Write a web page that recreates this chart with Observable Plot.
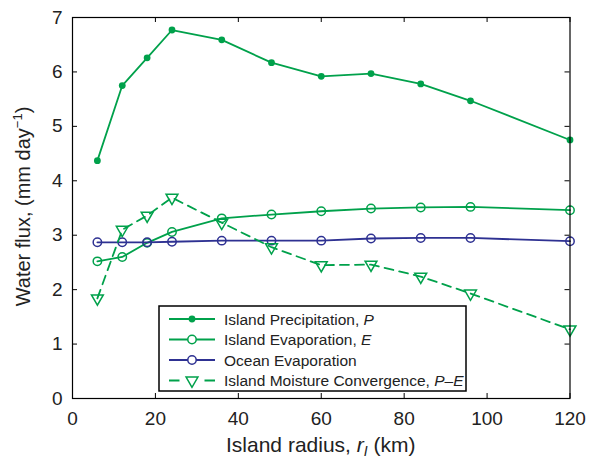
<!DOCTYPE html>
<html><head><meta charset="utf-8">
<script src="https://cdn.jsdelivr.net/npm/d3@7"></script>
<script src="https://cdn.jsdelivr.net/npm/@observablehq/plot@0.6"></script>
<style>
body{margin:0;background:#fff}
#chart{position:relative;width:589px;height:461px}
</style>
</head><body><div id="chart"></div>
<script>
// Data
const radius = [6, 12, 18, 24, 36, 48, 60, 72, 84, 96, 120];
const islandPrecip = [4.37, 5.75, 6.26, 6.77, 6.59, 6.17, 5.92, 5.97, 5.78, 5.47, 4.75];
const islandEvap = [2.52, 2.60, 2.86, 3.06, 3.31, 3.38, 3.44, 3.49, 3.51, 3.52, 3.46];
const oceanEvap = [2.87, 2.87, 2.87, 2.88, 2.90, 2.90, 2.90, 2.94, 2.95, 2.95, 2.89];
const convergence = [1.84, 3.10, 3.36, 3.69, 3.23, 2.78, 2.45, 2.46, 2.24, 1.93, 1.27];
const xTicks = [0, 20, 40, 60, 80, 100, 120];
const yTicks = [0, 1, 2, 3, 4, 5, 6, 7];
const seriesNames = ["Island Precipitation", "Island Evaporation", "Ocean Evaporation", "Island Moisture Convergence"];

const green = "#00a14b", blue = "#2e3192";
const toRows = (vals, name) => radius.map((r, i) => ({r, v: vals[i], name}));
const pRows = toRows(islandPrecip, seriesNames[0]);
const eRows = toRows(islandEvap, seriesNames[1]);
const oRows = toRows(oceanEvap, seriesNames[2]);
const cRows = toRows(convergence, seriesNames[3]);

const W = 589, H = 461, mL = 72, mR = 19.5, mT = 17, mB = 63;
const innerW = W - mL - mR, innerH = H - mT - mB, tk = 5;
const font = "'Liberation Sans', Arial, Helvetica, sans-serif";

const svg = Plot.plot({
  width: W, height: H,
  marginLeft: mL, marginRight: mR, marginTop: mT, marginBottom: mB,
  style: {fontFamily: font, fontSize: "19px", color: "#222", background: "#fff"},
  x: {domain: [0, 120]},
  y: {domain: [0, 7]},
  marks: [
    Plot.ruleX(xTicks, {x: d => d, insetTop: innerH - tk, stroke: "#000"}),
    Plot.ruleX(xTicks, {x: d => d, insetBottom: innerH - tk, stroke: "#000"}),
    Plot.ruleY(yTicks, {y: d => d, insetRight: innerW - tk, stroke: "#000"}),
    Plot.ruleY(yTicks, {y: d => d, insetLeft: innerW - tk, stroke: "#000"}),
    Plot.axisX({ticks: xTicks, tickSize: 0, tickPadding: 13, label: null, tickFormat: d3.format("d")}),
    Plot.axisY({ticks: yTicks, tickSize: 0, tickPadding: 10, label: null, tickFormat: d3.format("d")}),
    Plot.line(pRows, {x: "r", y: "v", stroke: green, strokeWidth: 1.8}),
    Plot.dot(pRows, {x: "r", y: "v", fill: green, r: 3.4}),
    Plot.line(eRows, {x: "r", y: "v", stroke: green, strokeWidth: 1.8}),
    Plot.dot(eRows, {x: "r", y: "v", stroke: green, fill: "none", r: 4.2, strokeWidth: 1.5}),
    Plot.line(oRows, {x: "r", y: "v", stroke: blue, strokeWidth: 1.8}),
    Plot.dot(oRows, {x: "r", y: "v", stroke: blue, fill: "none", r: 4.2, strokeWidth: 1.5}),
    Plot.line(cRows, {x: "r", y: "v", stroke: green, strokeWidth: 1.8, strokeDasharray: "9,6"}),
    Plot.dot(cRows, {x: "r", y: "v", stroke: green, fill: "none", symbol: "triangle", rotate: 180, r: 4.4, strokeWidth: 1.5}),
    Plot.frame({stroke: "#000", strokeWidth: 1.2})
  ]
});
document.getElementById("chart").appendChild(svg);

const s = d3.select(svg);
// Axis labels
const xl = s.append("text").attr("x", mL + innerW / 2).attr("y", 452)
  .attr("text-anchor", "middle").attr("font-size", 21).attr("fill", "#222");
xl.append("tspan").text("Island radius, ");
xl.append("tspan").attr("font-style", "italic").text("r");
xl.append("tspan").attr("font-style", "italic").attr("font-size", 14).attr("dy", 4).text("I");
xl.append("tspan").attr("dy", -4).text(" (km)");

const yl = s.append("text").attr("transform", `translate(30,${mT + innerH / 2 - 1}) rotate(-90)`)
  .attr("text-anchor", "middle").attr("font-size", 20).attr("fill", "#222");
yl.append("tspan").text("Water flux, (mm day");
yl.append("tspan").attr("font-size", 13).attr("dy", -8).text("\u22121");
yl.append("tspan").attr("dy", 8).text(")");

// Legend
const lx = 159, ly = 306, lw = 307, lh = 85;
const lg = s.append("g").attr("text-anchor", "start");
lg.append("rect").attr("x", lx).attr("y", ly).attr("width", lw).attr("height", lh)
  .attr("fill", "#fff").attr("stroke", "#000").attr("stroke-width", 1.5);
const items = [
  {label: ["Island Precipitation, ", "P"], color: green, dash: null, marker: "dot"},
  {label: ["Island Evaporation, ", "E"], color: green, dash: null, marker: "circle"},
  {label: ["Ocean Evaporation", ""], color: blue, dash: null, marker: "circle"},
  {label: ["Island Moisture Convergence, ", "P\u2013E"], color: green, dash: "10.5,25", marker: "tri"}
];
items.forEach((it, i) => {
  const cy = ly + 13 + i * 20.5;
  const x0 = 169, x1 = 215, xm = (x0 + x1) / 2;
  lg.append("line").attr("x1", x0).attr("x2", x1).attr("y1", cy).attr("y2", cy)
    .attr("stroke", it.color).attr("stroke-width", 1.8).attr("stroke-dasharray", it.dash);
  if (it.marker === "dot") lg.append("circle").attr("cx", xm).attr("cy", cy).attr("r", 3.4).attr("fill", it.color);
  else if (it.marker === "circle") lg.append("circle").attr("cx", xm).attr("cy", cy).attr("r", 4.2)
    .attr("fill", "#fff").attr("stroke", it.color).attr("stroke-width", 1.5);
  else lg.append("path").attr("d", d3.symbol(d3.symbolTriangle, Math.PI * 4.4 * 4.4)())
    .attr("transform", `translate(${xm},${cy}) rotate(180)`)
    .attr("fill", "#fff").attr("stroke", it.color).attr("stroke-width", 1.5);
  const t = lg.append("text").attr("x", 224).attr("y", cy).attr("dy", "0.36em")
    .attr("text-anchor", "start").attr("font-size", 15.5).attr("fill", "#222");
  t.append("tspan").text(it.label[0]);
  t.append("tspan").attr("font-style", "italic").text(it.label[1]);
});
</script>
</body></html>
